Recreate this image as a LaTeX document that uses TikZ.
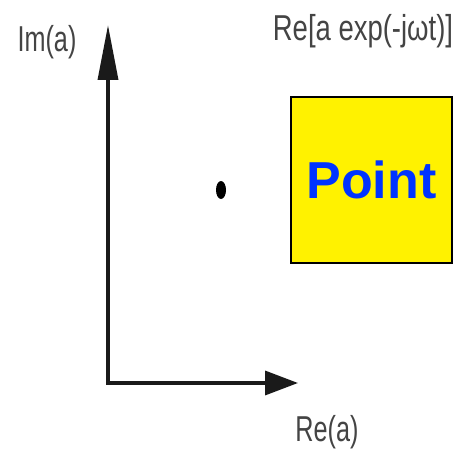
\documentclass[tikz,border=0pt]{standalone}
\usepackage{fontspec}
\setmainfont{Liberation Sans}
\usetikzlibrary{arrows.meta,shapes.geometric}
\definecolor{axisgray}{HTML}{1A1A1A}
\definecolor{labelgray}{HTML}{444444}
\definecolor{pointblue}{HTML}{0033FF}
\tikzset{
  axis/.style={draw=axisgray, line width=3.5pt},
  lbl/.style={text=labelgray, font=\fontsize{36}{38}\selectfont, inner sep=0pt, xscale=0.7},
  pointbox/.style={draw=black, line width=2pt, fill=yellow, minimum width=161pt, minimum height=166pt, inner sep=0pt,
    text=pointblue, font=\fontsize{52}{56}\selectfont\bfseries},
  dotmark/.style={fill=black, ellipse, minimum width=10pt, minimum height=18pt, inner sep=0pt},
}
\begin{document}
\begin{tikzpicture}[x=1pt,y=-1pt]
\useasboundingbox (0,0) rectangle (454,457);
\fill[white] (0,0) rectangle (454,457);
\coordinate (origin) at (108,383);
\coordinate (ytip) at (108,25);
\coordinate (xtip) at (298,383);
\draw[axis, -{Triangle[length=55pt,width=20pt]}] (origin) -- (ytip);
\draw[axis, -{Triangle[length=33pt,width=24pt]}] ([xshift=-1.75pt]origin) -- (xtip);
\node[lbl] (im) at (47,42) {Im(a)};
\node[lbl] (re) at (327,432) {Re(a)};
\node[lbl, xscale=1.09] (rexp) at (363,31) {Re[a exp(-jωt)]};
\node[dotmark] (pt) at (221,190) {};
\node[pointbox] (box) at (371.5,180) {Point};
\end{tikzpicture}
\end{document}
